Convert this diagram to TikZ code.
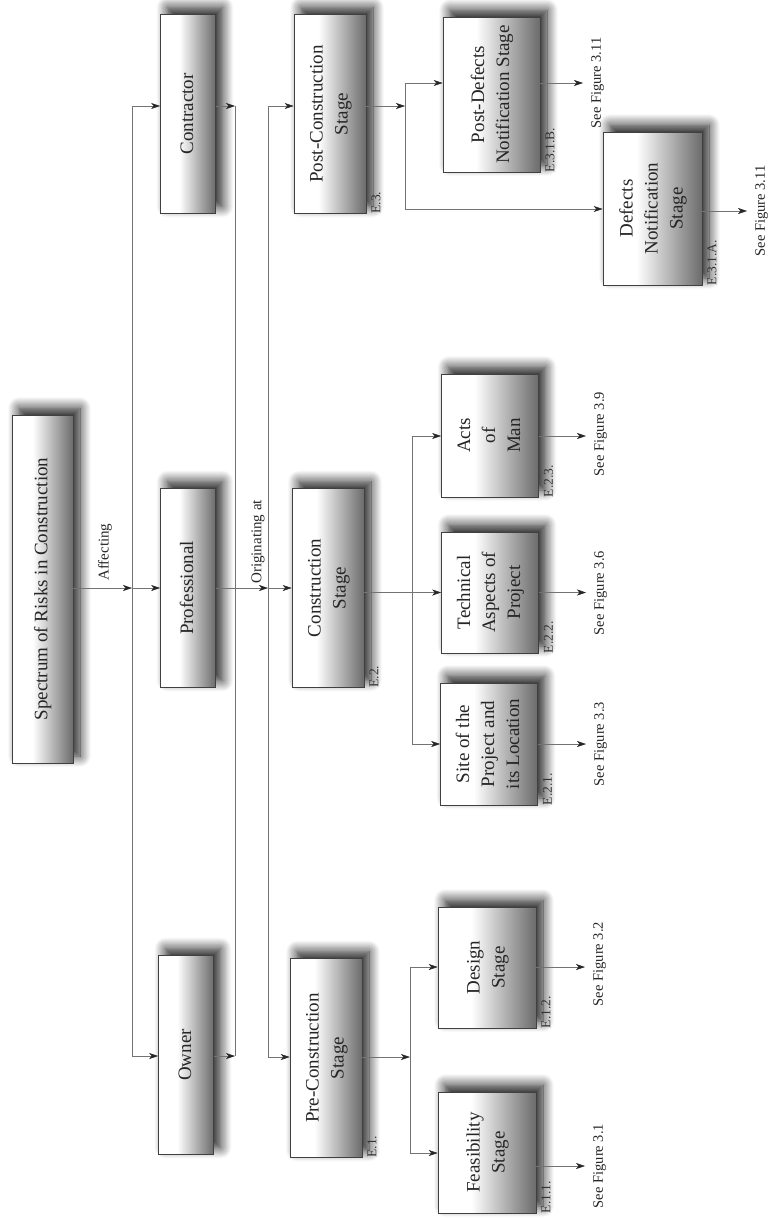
\documentclass[tikz,border=0pt]{standalone}
\usepackage{fontspec}
\setmainfont{Liberation Serif}
\usetikzlibrary{arrows.meta,shadows.blur}
\pgfdeclarehorizontalshading{boxshade}{100bp}{color(0bp)=(white); color(25bp)=(white); color(42bp)=(white); color(75bp)=(black!58); color(100bp)=(black!58)}
\newcommand{\rt}[1]{\rotatebox{90}{\begin{tabular}{@{}c@{}}#1\end{tabular}}}
\newcommand{\rs}[1]{\rotatebox{90}{#1}}
\begin{document}
\begin{tikzpicture}[x=1pt,y=-1pt,
  box/.style={draw=black!75, line width=0.6pt, shade, shading=boxshade, inner sep=0pt, text=black!85,
     font=\fontsize{19}{25}\selectfont,
     blur shadow={shadow xshift=7pt, shadow yshift=7pt, shadow blur radius=11pt, shadow opacity=90, shadow blur steps=12}},
  line/.style={draw=black!55, line width=0.5pt},
  arr/.style={line, -{Stealth[length=9pt,width=6pt,inset=2.5pt,color=black!85]}},
  see/.style={font=\fontsize{14.5}{17}\selectfont, text=black!85, inner sep=0pt},
  elab/.style={font=\fontsize{13.5}{15}\selectfont, text=black!80, inner xsep=5pt, inner ysep=0pt},
  lab/.style={font=\fontsize{15}{17}\selectfont, text=black!85, inner sep=0pt},
]
\useasboundingbox (0,0) rectangle (770,1218);

% level 0
\node[box, minimum width=61pt, minimum height=348pt] (spec) at (42.5,589) {\rt{Spectrum of Risks in Construction}};
% stakeholders
\node[box, minimum width=55pt, minimum height=199pt] (con) at (188,114) {\rt{Contractor}};
\node[box, minimum width=55pt, minimum height=199pt] (pro) at (188,588) {\rt{Professional}};
\node[box, minimum width=55pt, minimum height=199pt] (own) at (186,1055) {\rt{Owner}};
% stages
\node[box, minimum width=72pt, minimum height=199pt] (postc) at (330,114) {\rt{Post-Construction\\Stage}};
\node[box, minimum width=72pt, minimum height=199pt] (constr) at (328,588) {\rt{Construction\\Stage}};
\node[box, minimum width=72pt, minimum height=199pt] (prec) at (326,1058) {\rt{Pre-Construction\\Stage}};
% sub-stages
\node[box, minimum width=97pt, minimum height=155pt] (pd) at (491.5,94.5) {\rt{Post-Defects\\Notification Stage}};
\node[box, minimum width=99pt, minimum height=153pt] (dn) at (652.5,208.5) {\rt{Defects\\Notification\\Stage}};
\node[box, minimum width=97pt, minimum height=123pt] (acts) at (490,435.5) {\rt{Acts\\of\\Man}};
\node[box, minimum width=97pt, minimum height=121pt] (tech) at (490,592.5) {\rt{Technical\\Aspects of\\Project}};
\node[box, minimum width=97pt, minimum height=122pt] (site) at (489,744) {\rt{Site of the\\Project and\\its Location}};
\node[box, minimum width=98pt, minimum height=121pt] (design) at (487,967.5) {\rt{Design\\Stage}};
\node[box, minimum width=98pt, minimum height=121pt] (feas) at (487,1152.5) {\rt{Feasibility\\Stage}};

% E labels
\node[elab, anchor=south west] (e3) at (postc.south east) {\rs{E.3.}};
\node[elab, anchor=south west] (e2) at (constr.south east) {\rs{E.2.}};
\node[elab, anchor=south west] (e1) at (prec.south east) {\rs{E.1.}};
\node[elab, anchor=south west] (e31b) at (pd.south east) {\rs{E.3.1.B.}};
\node[elab, anchor=south west] (e31a) at (dn.south east) {\rs{E.3.1.A.}};
\node[elab, anchor=south west] (e23) at (acts.south east) {\rs{E.2.3.}};
\node[elab, anchor=south west] (e22) at (tech.south east) {\rs{E.2.2.}};
\node[elab, anchor=south west] (e21) at (site.south east) {\rs{E.2.1.}};
\node[elab, anchor=south west] (e12) at (design.south east) {\rs{E.1.2.}};
\node[elab, anchor=south west] (e11) at (feas.south east) {\rs{E.1.1.}};

% see labels
\node[see, anchor=west] (pdsee) at (591,83) {\rs{See Figure 3.11}};
\node[see, anchor=west] (dnsee) at (755,211) {\rs{See Figure 3.11}};
\node[see, anchor=west] (actssee) at (594,434) {\rs{See Figure 3.9}};
\node[see, anchor=west] (techsee) at (594,593) {\rs{See Figure 3.6}};
\node[see, anchor=west] (sitesee) at (594,744) {\rs{See Figure 3.3}};
\node[see, anchor=west] (designsee) at (593,964) {\rs{See Figure 3.2}};
\node[see, anchor=west] (feassee) at (593,1166) {\rs{See Figure 3.1}};

% connector labels
\node[lab, anchor=south] (aff) at (105,581) {\rs{Affecting}};
\node[lab, anchor=south] (orig) at (258,584) {\rs{Originating at}};

% bus coordinates
\coordinate (b1a) at (132,106);
\coordinate (b1b) at (132,1056);
\coordinate (ca) at (235,106);
\coordinate (cb) at (235,1056);
\coordinate (da) at (268,106);
\coordinate (db) at (268,1057);
\coordinate (pa) at (405,83);
\coordinate (pb) at (405,209);
\coordinate (ka) at (412,436);
\coordinate (kb) at (412,744);
\coordinate (qa) at (410,967);
\coordinate (qb) at (410,1153);

% spectrum -> stakeholders
\draw[line] (b1a) -- (b1b);
\draw[arr] (spec.east |- pro) -- (b1a |- pro);
\draw[arr] (b1a) -- (con.west |- b1a);
\draw[arr] (b1a |- pro) -- (pro.west);
\draw[arr] (b1b) -- (own.west |- b1b);

% stakeholders -> collector
\draw[line] (ca) -- (cb);
\draw[arr] (con.east |- ca) -- (ca);
\draw[arr] (own.east |- cb) -- (cb);

% originating at -> stages
\draw[line] (da) -- (db);
\draw[arr] (pro.east) -- (da |- pro);
\draw[arr] (da) -- (postc.west |- da);
\draw[arr] (da |- constr) -- (constr.west);
\draw[arr] (db) -- (prec.west |- db);

% post-construction branch
\draw[arr] (postc.east |- da) -- (pa |- da);
\draw[line] (pa) -- (pb);
\draw[arr] (pa) -- (pd.west |- pa);
\draw[arr] (pb) -- (dn.west |- pb);
\draw[arr, shorten >=8pt] (pd.east |- pdsee.west) -- (pdsee.west);
\draw[arr, shorten >=8pt] (dn.east |- dnsee.west) -- (dnsee.west);

% construction branch
\draw[line] (ka) -- (kb);
\draw[arr] (constr.east |- tech) -- (tech.west);
\draw[arr] (ka) -- (acts.west |- ka);
\draw[arr] (kb) -- (site.west |- kb);
\draw[arr, shorten >=8pt] (acts.east |- ka) -- (actssee.west |- ka);
\draw[arr, shorten >=8pt] (tech.east) -- (techsee.west |- tech);
\draw[arr, shorten >=8pt] (site.east |- kb) -- (sitesee.west |- kb);

% pre-construction branch
\draw[arr] (prec.east |- db) -- (qa |- db);
\draw[line] (qa) -- (qb);
\draw[arr] (qa) -- (design.west |- qa);
\draw[arr] (qb) -- (feas.west |- qb);
\draw[arr, shorten >=8pt] (design.east |- qa) -- (designsee.west |- qa);
\draw[arr, shorten >=8pt] (feas.east |- feassee.west) -- (feassee.west);
\end{tikzpicture}
\end{document}
